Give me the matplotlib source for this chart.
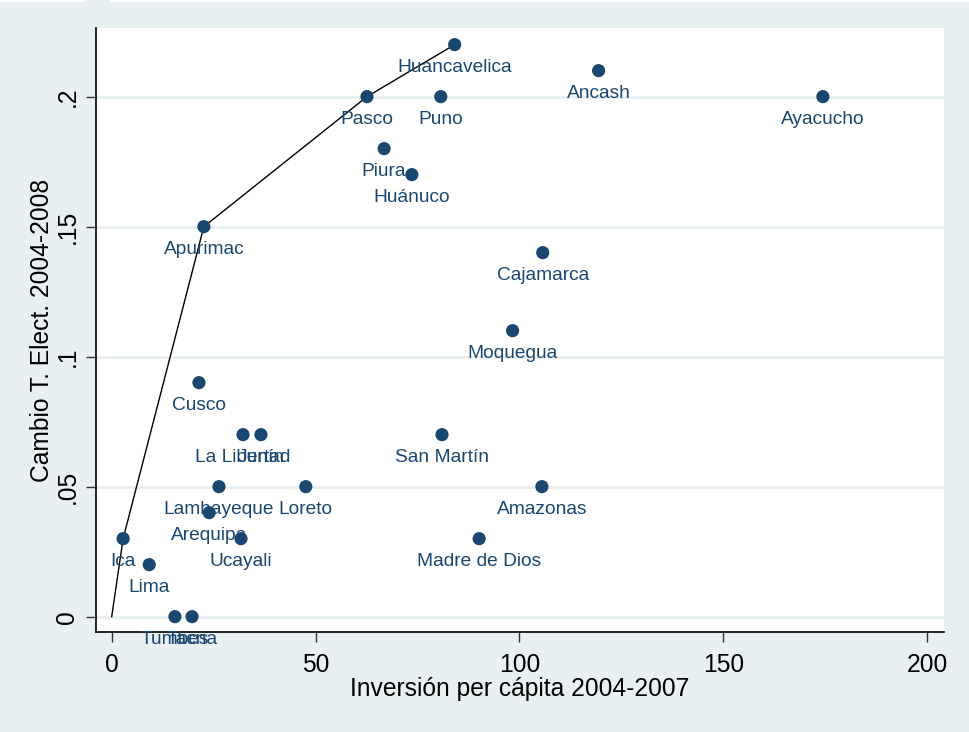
import matplotlib
matplotlib.use("Agg")
import matplotlib.pyplot as plt
from matplotlib.patches import Rectangle

plt.rcParams['font.family'] = ['Liberation Sans', 'DejaVu Sans']

regions = ["Huancavelica", "Ancash", "Ayacucho", "Pasco", "Puno", "Piura", "Huánuco",
           "Apurimac", "Cajamarca", "Moquegua", "Cusco", "La Libertad", "Junín",
           "San Martín", "Lambayeque", "Loreto", "Amazonas", "Arequipa", "Ucayali",
           "Ica", "Madre de Dios", "Lima", "Tumbes", "Tacna"]
inversion = [84.1, 119.4, 174.4, 62.6, 80.7, 66.8, 73.6,
             22.6, 105.7, 98.3, 21.4, 32.2, 36.6,
             81.0, 26.3, 47.6, 105.5, 23.9, 31.7,
             2.8, 90.1, 9.2, 15.5, 19.7]
cambio = [0.22, 0.21, 0.20, 0.20, 0.20, 0.18, 0.17,
          0.15, 0.14, 0.11, 0.09, 0.07, 0.07,
          0.07, 0.05, 0.05, 0.05, 0.04, 0.03,
          0.03, 0.03, 0.02, 0.0, 0.0]

frontier_x = [0.0, 2.8, 22.6, 62.6, 84.1]
frontier_y = [0.0, 0.03, 0.15, 0.20, 0.22]

xticks = [0, 50, 100, 150, 200]
xticklabels = ["0", "50", "100", "150", "200"]
yticks = [0, 0.05, 0.1, 0.15, 0.2]
yticklabels = ["0", ".05", ".1", ".15", ".2"]

bg = "#E9F0F2"
navy = "#1A476F"

fig = plt.figure(figsize=(9.69, 7.32), dpi=100, facecolor=bg)
fig.patches.append(Rectangle((0, 1 - 2/732), 85/969, 2/732, transform=fig.transFigure,
                             facecolor="white", edgecolor="none", zorder=10))
fig.patches.append(Rectangle((110/969, 1 - 2/732), 1, 2/732, transform=fig.transFigure,
                             facecolor="white", edgecolor="none", zorder=10))

ax = fig.add_axes([96/969, 100/732, (944-96)/969, (632-28)/732])
ax.set_facecolor("white")
ax.set_xlim(-3.85, 204.1)
ax.set_ylim(-0.0059, 0.2264)

for yv in yticks:
    ax.axhline(yv, color="#E8EFF1", lw=2.0, zorder=0)

ax.plot(frontier_x, frontier_y, color="black", lw=1.0, zorder=2)
ax.scatter(inversion, cambio, s=90, color=navy, edgecolors="none", zorder=3)
for name, xv, yv in zip(regions, inversion, cambio):
    ax.annotate(name, (xv, yv), xytext=(0, -16.5), textcoords="offset points",
                ha="center", va="center", fontsize=13.8, color=navy, zorder=4)

for s in ["top", "right"]:
    ax.spines[s].set_visible(False)
for s in ["left", "bottom"]:
    ax.spines[s].set_linewidth(1.2)
    ax.spines[s].set_color("black")

ax.set_xticks(xticks)
ax.set_xticklabels(xticklabels)
ax.set_yticks(yticks)
ax.set_yticklabels(yticklabels, rotation=90, va="center")
ax.tick_params(axis="both", length=7, width=1.0, color="#333333", labelsize=17.7)
ax.tick_params(axis="x", pad=8)
ax.tick_params(axis="y", pad=5)

ax.set_xlabel("Inversión per cápita 2004-2007", fontsize=17.7, labelpad=0)
ax.set_ylabel("Cambio T. Elect. 2004-2008", fontsize=17.7, labelpad=1)

fig.savefig("out.png", dpi=100, facecolor=bg)
